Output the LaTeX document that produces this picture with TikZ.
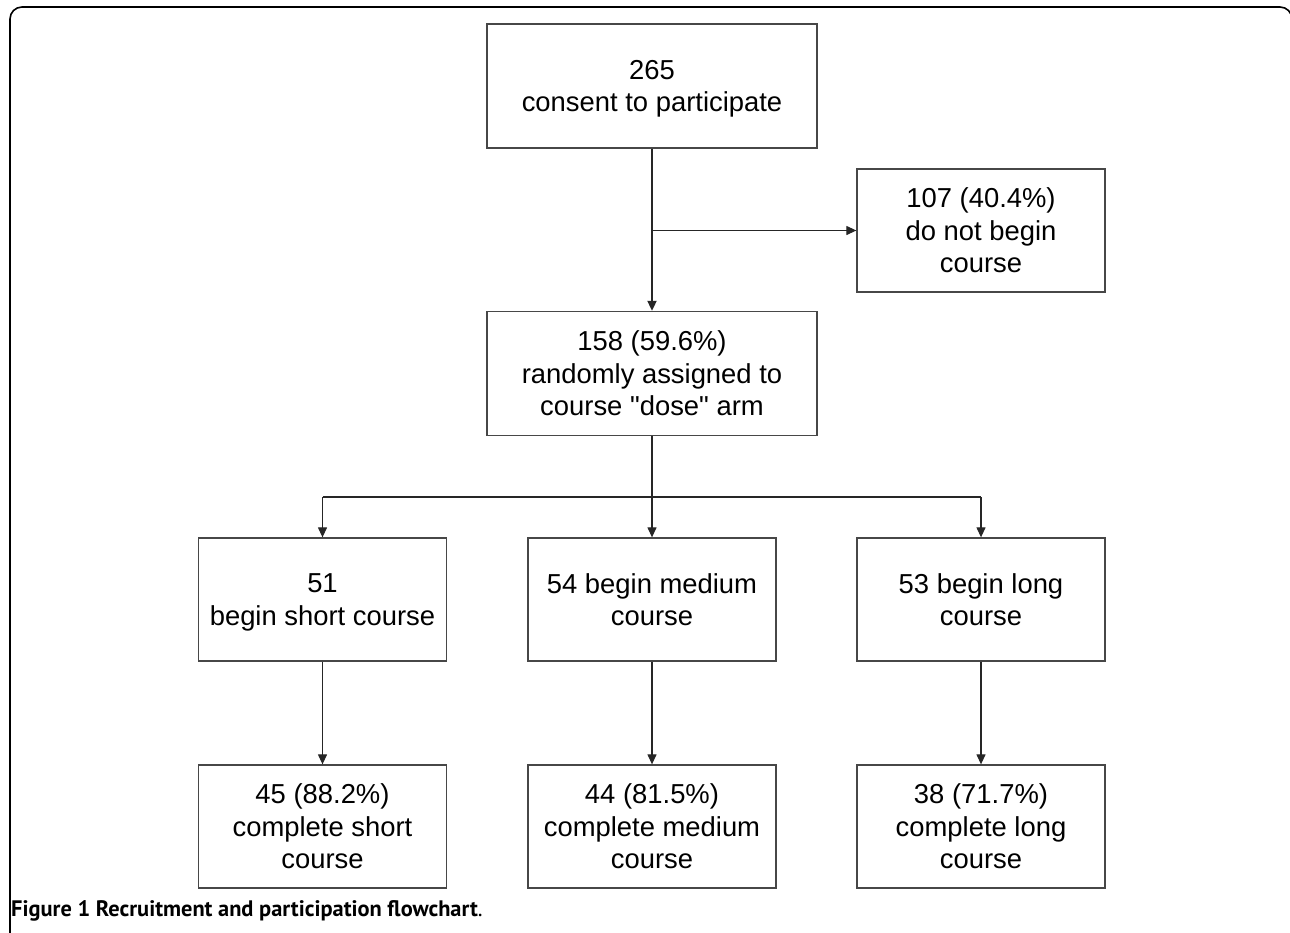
\documentclass[tikz,border=0pt]{standalone}
\usepackage{fontspec}
\setmainfont{Liberation Sans}
\newfontfamily\boxfont{Liberation Sans}
\newfontfamily\capfont{PT Sans}
\usetikzlibrary{arrows.meta}
\tikzset{
  box/.style={draw=black!72, line width=1.3pt, inner sep=0pt, align=center,
    font=\boxfont\fontsize{27.4}{32.5}\selectfont, text=black, text depth=0pt},
  wide/.style={box, minimum width=330pt, minimum height=124pt},
  narrow/.style={box, minimum width=248pt, minimum height=123pt},
  conn/.style={draw=black!85, line width=1.2pt},
  arr/.style={conn, -{Triangle[length=10pt,width=9pt]}},
  thick conn/.style={draw=black!85, line width=1.8pt},
}
\begin{document}
\begin{tikzpicture}[x=1pt,y=-1pt]
\useasboundingbox (0,0) rectangle (1290,932);
\begin{scope}
\clip (0,0) rectangle (1290,932);
\draw[line width=1.6pt, rounded corners=12pt] (10,940) -- (10,7) -- (1292,7) -- (1292,940);
\end{scope}
\node[wide] (b1) at (652,86) {265\\consent to participate};
\node[narrow] (b2) at (981,230.5) {107 (40.4\%)\\do not begin\\course};
\node[wide] (b3) at (652,373.5) {158 (59.6\%)\\randomly assigned to\\course "dose" arm};
\node[narrow] (b4) at (322.5,599.5) {51\\begin short course};
\node[narrow] (b5) at (652,599.5) {54 begin medium\\course};
\node[narrow] (b6) at (981,599.5) {53 begin long\\course};
\node[narrow] (b7) at (322.5,826.5) {45 (88.2\%)\\complete short\\course};
\node[narrow] (b8) at (652,826.5) {44 (81.5\%)\\complete medium\\course};
\node[narrow] (b9) at (981,826.5) {38 (71.7\%)\\complete long\\course};
\coordinate (j1) at (b1.south |- b2.west);
\coordinate (j2) at (652,497);
\draw[thick conn, -{Triangle[length=10pt,width=9pt]}] (b1.south) -- (b3.north);
\draw[arr] (j1) -- (b2.west);
\draw[thick conn] (b3.south) -- (j2);
\draw[conn] (b4.north |- j2) -- (b6.north |- j2);
\draw[arr] (b4.north |- j2) -- (b4.north);
\draw[arr] (j2) -- (b5.north);
\draw[arr] (b6.north |- j2) -- (b6.north);
\draw[arr] (b4.south) -- (b7.north);
\draw[arr] (b5.south) -- (b8.north);
\draw[arr] (b6.south) -- (b9.north);
\node[anchor=base west, inner sep=0pt, font=\capfont\fontsize{22.4}{24}\selectfont] (cap) at (11,916)
  {\textbf{Figure 1 Recruitment and participation flowchart}.};
\end{tikzpicture}
\end{document}
